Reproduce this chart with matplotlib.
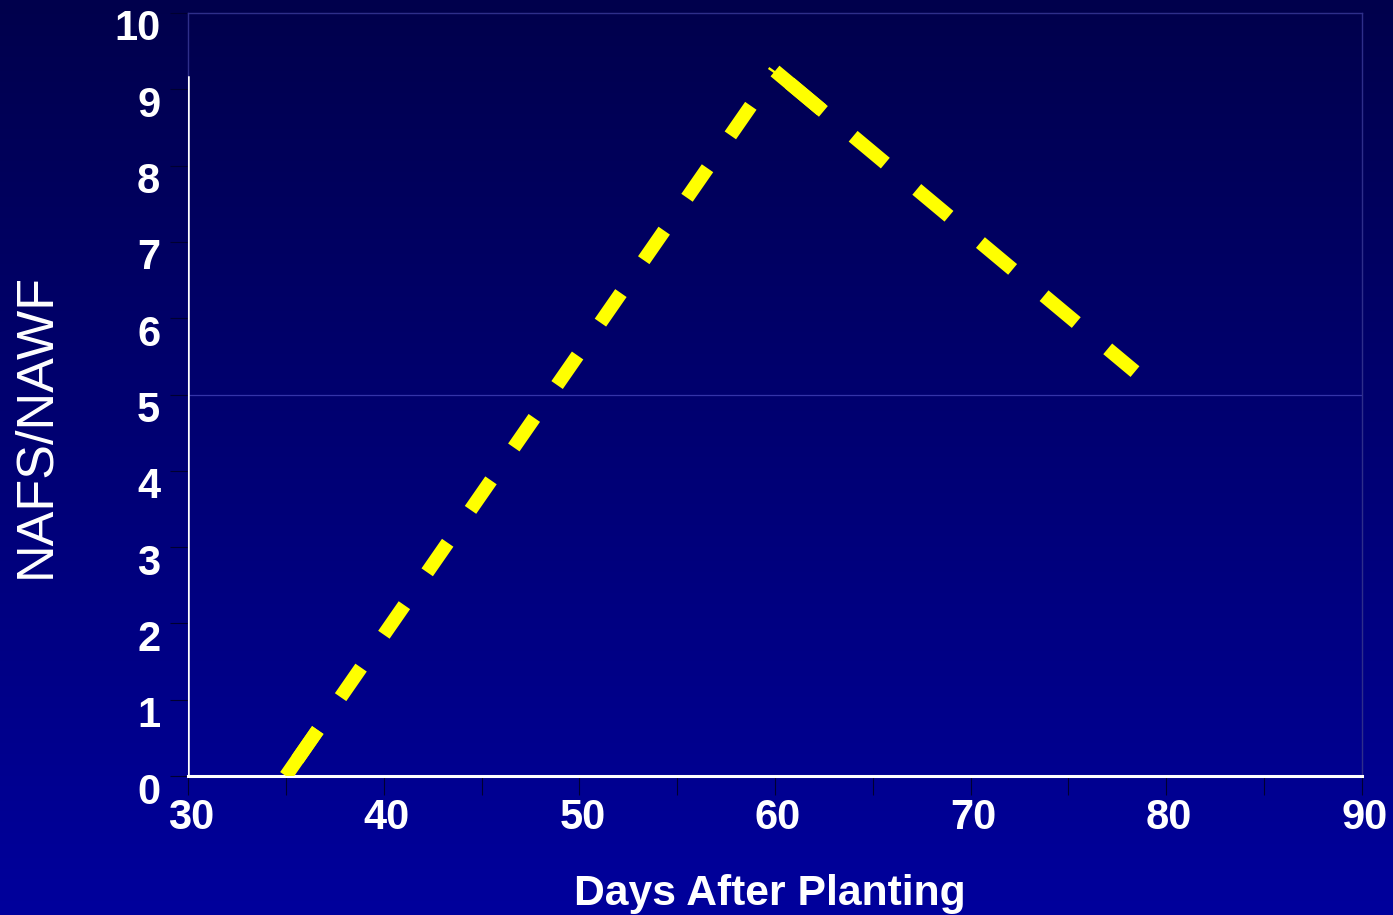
import numpy as np
import matplotlib.pyplot as plt
from matplotlib.colors import LinearSegmentedColormap
from matplotlib.transforms import ScaledTranslation

days = [35, 60, 78.4]
ratio = [0, 9.24, 5.3]
x_ticks = [30, 40, 50, 60, 70, 80, 90]
y_ticks = list(range(0, 11))

plt.rcParams['font.family'] = ['Liberation Sans', 'DejaVu Sans']

fig = plt.figure(figsize=(13.93, 9.15), dpi=100)

# gradient background
bg = fig.add_axes([0, 0, 1, 1], zorder=-10)
cmap = LinearSegmentedColormap.from_list('bg', ['#00004c', '#00009c'])
bg.imshow(np.linspace(0, 1, 256).reshape(-1, 1), aspect='auto', cmap=cmap,
          extent=[0, 1, 0, 1], origin='upper')
bg.axis('off')

ax = fig.add_axes([0.135, 0.1519, 0.8427, 0.8339])
ax.set_facecolor('none')
ax.set_xlim(30, 90)
ax.set_ylim(0, 10)

for s in ax.spines.values():
    s.set_color('#2e2e8a')
    s.set_linewidth(1)
ax.spines['bottom'].set_color('white')
ax.spines['bottom'].set_linewidth(2.2)
ax.axvline(30, ymin=0, ymax=0.916, color='white', lw=1.8, zorder=3)
ax.axhline(5, color='#3434a8', lw=0.9, zorder=1)

# each segment restarts its dash pattern with a longer first dash
seg_styles = [((4.03, (2.59, 2.88)), 4.03),
              ((4.61, (3.02, 2.95)), 4.54)]
for i, (ls, head) in enumerate(seg_styles):
    xs, ys = days[i:i + 2], ratio[i:i + 2]
    ax.plot(xs, ys, color='#ffff00', lw=10, ls=ls, dash_capstyle='butt', zorder=4)
    ax.plot(xs, ys, color='#ffff00', lw=10, ls=(0, (head, 500)),
            dash_capstyle='butt', zorder=4)

ax.set_xticks(x_ticks)
ax.set_xticks([35, 45, 55, 65, 75, 85], minor=True)
ax.set_yticks(y_ticks)
ax.tick_params(axis='x', which='both', length=13.5, width=0.8, color='#000030',
               pad=2, labelsize=30, labelcolor='white')
ax.tick_params(axis='y', which='both', length=13, width=0.8, color='#000030',
               pad=7, labelsize=30, labelcolor='white')
for lab in ax.get_xticklabels() + ax.get_yticklabels():
    lab.set_fontweight('bold')
for lab in ax.get_yticklabels():
    lab.set_transform(lab.get_transform() + ScaledTranslation(0, -0.12, fig.dpi_scale_trans))
for lab in ax.get_xticklabels():
    lab.set_transform(lab.get_transform() + ScaledTranslation(0.03, 0, fig.dpi_scale_trans))

ax.set_xlabel('Days After Planting', fontsize=30.7, fontweight='bold', color='white')
ax.xaxis.set_label_coords(0.4957, -0.129)
ax.set_ylabel('NAFS/NAWF', fontsize=37.5, color='white')
ax.yaxis.set_label_coords(-0.130, 0.459)
ax.yaxis.label.set_va('center')

fig.savefig('out.png', dpi=100)
